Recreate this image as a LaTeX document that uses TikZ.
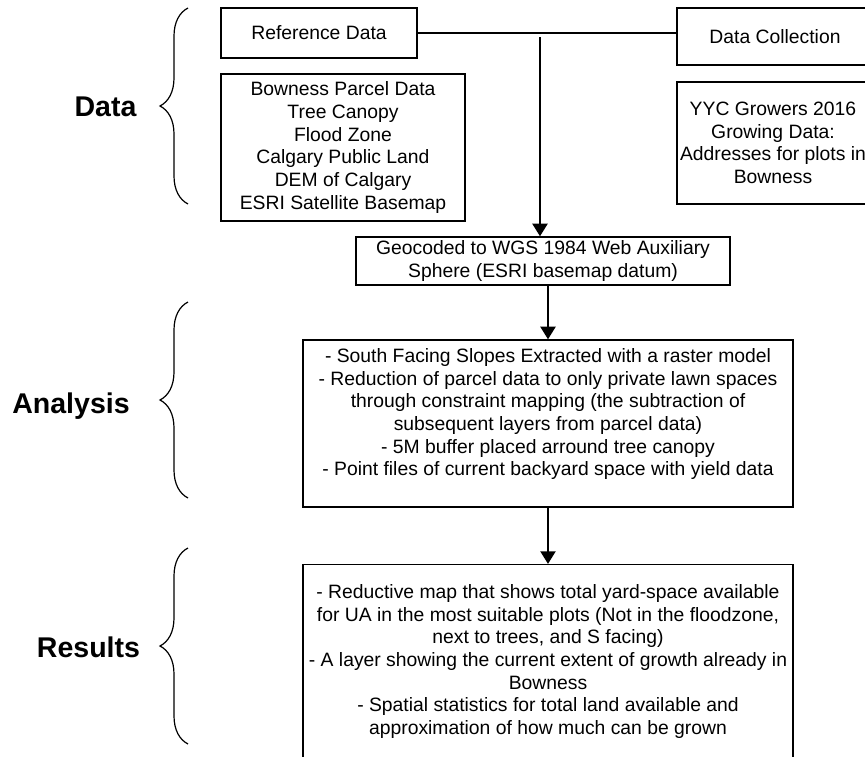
\documentclass[tikz,border=0pt]{standalone}
\usepackage{fontspec}
\setmainfont{Liberation Sans}
\usetikzlibrary{arrows.meta,decorations.pathreplacing}

\begin{document}
\begin{tikzpicture}[
  x=0.75pt, y=-0.75pt,
  box/.style={draw, line width=0.9pt, align=center, inner sep=0pt, font=\fontsize{14.5}{17}\selectfont},
  section/.style={font=\fontsize{21.4}{25}\selectfont\bfseries},
  flow/.style={line width=2.2pt},
  flowarrow/.style={line width=2.2pt, -{Triangle[length=9.5pt,width=11pt]}},
  bracket/.style={line width=0.9pt, decorate, decoration={brace, amplitude=21pt}}
]
\useasboundingbox (0,0) rectangle (865,757);
\clip (0,0) rectangle (865,757);

\node[section] (datalabel) at (105.5,107) {Data};
\node[section] (analysislabel) at (71,406) {Analysis};
\node[section] (resultslabel) at (88.5,647) {Results};

\draw[bracket] (188,204) -- (188,8);
\draw[bracket] (188,498) -- (188,302);
\draw[bracket] (188,744) -- (188,548);

\node[box, minimum width=147pt, minimum height=37.5pt] (ref) at (319,33) {Reference Data};
\node[box, minimum width=183pt, minimum height=110.25pt] (list) at (343,147.5) {Bowness Parcel Data\\Tree Canopy\\Flood Zone\\Calgary Public Land\\DEM of Calgary\\ESRI Satellite Basemap};
\node[box, minimum width=147pt, minimum height=42.75pt] (dc) at (775,36.5) {Data Collection};
\node[box, minimum width=144pt, minimum height=91.5pt] (yyc) at (773,143) {YYC Growers 2016\\Growing Data:\\Addresses for plots in\\Bowness};
\node[box, minimum width=280.5pt, minimum height=36pt] (geo) at (543,261) {Geocoded to WGS 1984 Web Auxiliary\\Sphere (ESRI basemap datum)};
\node[box, minimum width=367.5pt, minimum height=125.25pt] (analysis) at (548,423.5) {- South Facing Slopes Extracted with a raster model\\- Reduction of parcel data to only private lawn spaces\\through constraint mapping (the subtraction of\\subsequent layers from parcel data)\\- 5M buffer placed arround tree canopy\\- Point files of current backyard space with yield data\\\mbox{}};
\node[box, anchor=north, minimum width=367.5pt, inner ysep=15pt] (results) at (548,564) {- Reductive map that shows total yard-space available\\for UA in the most suitable plots (Not in the floodzone,\\next to trees, and S facing)\\- A layer showing the current extent of growth already in\\Bowness\\- Spatial statistics for total land available and\\approximation of how much can be grown\\\mbox{}};

\coordinate (split) at (540,37);
\draw[flow] (ref.east) -- (ref.east -| dc.west);
\draw[flowarrow] (split) -- (split |- geo.north);
\draw[flowarrow] (geo.south -| analysis.north) -- (analysis.north);
\draw[flowarrow] (analysis.south) -- (results.north);
\end{tikzpicture}
\end{document}
